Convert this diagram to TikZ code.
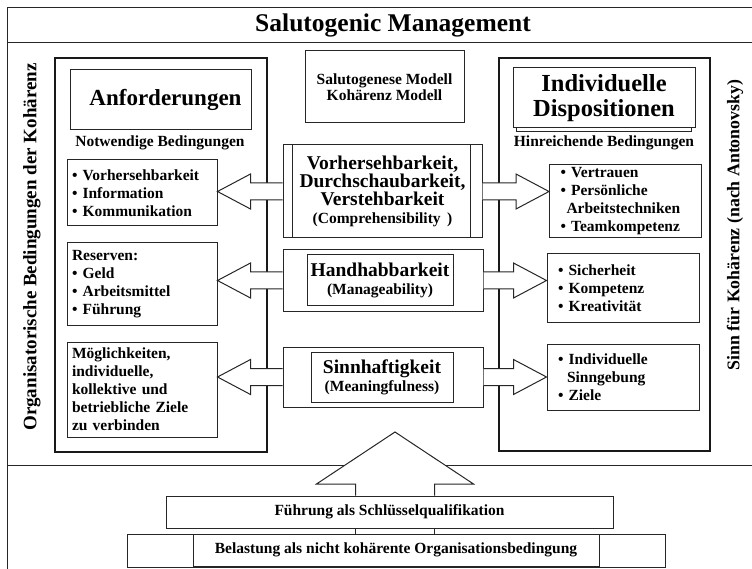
\documentclass[tikz,border=0pt]{standalone}
\usepackage{fontspec}
\setmainfont{Liberation Serif}
\usetikzlibrary{calc}
\newcommand\smallc{\fontsize{15.5}{18}\selectfont}
\tikzset{
  frameline/.style={line width=1pt, draw=black!85},
  box/.style={draw=black!85, line width=1pt, inner sep=0pt},
  bigbox/.style={draw=black!90, line width=2pt, inner sep=0pt},
  blockarr/.style={draw=black!85, line width=1pt, fill=white, line join=miter},
  small/.style={font=\bfseries\fontsize{15.5}{18}\selectfont},
  big/.style={font=\bfseries\fontsize{23}{25}\selectfont},
  ctr/.style={box, align=center, font=\bfseries\fontsize{19.5}{18}\selectfont},
  itemL/.style={box, small, align=left, text width=140pt, inner xsep=5pt, minimum width=150pt},
  itemR/.style={box, small, align=left, text width=130pt, inner xsep=11pt, minimum width=152pt},
}
\newcommand\leftblock[2]{%
  \draw[blockarr] let \p1=(#1), \p2=(#2) in
  (\x1,\y1+8.5pt) -- (\x2+33pt,\y1+8.5pt) -- (\x2+33pt,\y1+17.5pt) -- (\x2,\y1)
  -- (\x2+33pt,\y1-17.5pt) -- (\x2+33pt,\y1-8.5pt) -- (\x1,\y1-8.5pt);}
\newcommand\rightblock[2]{%
  \draw[blockarr] let \p1=(#1), \p2=(#2) in
  (\x1,\y1+8.5pt) -- (\x2-33pt,\y1+8.5pt) -- (\x2-33pt,\y1+17.5pt) -- (\x2,\y1)
  -- (\x2-33pt,\y1-17.5pt) -- (\x2-33pt,\y1-8.5pt) -- (\x1,\y1-8.5pt);}
\begin{document}
\begin{tikzpicture}[x=1pt,y=-1pt]
\useasboundingbox (0,0) rectangle (752,569);
% outer frame
\draw[frameline] (7,569) -- (7,8) -- (752,8);
\draw[frameline] (7,43) -- (752,43);
\draw[frameline] (7,465) -- (752,465);
\node[font=\bfseries\fontsize{25.5}{27}\selectfont] (title) at (393,25) {Salutogenic Management};
% side texts
\node[rotate=90, font=\bfseries\fontsize{19}{20}\selectfont] (lside) at (32,247) {Organisatorische Bedingungen der Kohärenz};
\node[rotate=90, font=\bfseries\fontsize{17.8}{20}\selectfont] (rside) at (735,225) {Sinn für Kohärenz (nach Antonovsky)};
% left big box
\node[bigbox, minimum width=212pt, minimum height=394pt] (lbig) at (161,255) {};
\node[box, big, minimum width=181pt, minimum height=60pt] (anf) at (160.5,100) {\hspace{10pt}Anforderungen};
\node[small] (notw) at (160,143) {Notwendige Bedingungen};
\node[itemL, minimum height=66pt] (l1) at (142,193) {• Vorhersehbarkeit\\ • Information\\ • Kommunikation};
\node[itemL, minimum height=82pt] (l2) at (142,284) {Reserven:\\ • Geld\\ • Arbeitsmittel\\ • Führung};
\node[itemL, minimum height=95pt] (l3) at (142,389.5) {Möglichkeiten,\\ individuelle,\\ kollektive und\\ betriebliche Ziele\\ zu verbinden};
% right big box
\node[bigbox, minimum width=211pt, minimum height=393pt] (rbig) at (604.5,254.5) {};
\node[box, align=center, minimum width=182pt, minimum height=60pt, font=\bfseries\fontsize{24.5}{25}\selectfont] (ind) at (604,98) {Individuelle\\ Dispositionen};
\draw[box] ([xshift=4pt]ind.south west) -- ++(0,3) -- ([xshift=-4pt,yshift=-3pt]ind.south east) -- ([xshift=-4pt]ind.south east);
\node[small] (hinr) at (604,143) {Hinreichende Bedingungen};
\node[itemR, minimum height=73pt] (r1) at (625.5,201.5) {• Vertrauen\\ • Persönliche\\ \hspace*{6pt}Arbeitstechniken\\ • Teamkompetenz};
\node[itemR, minimum height=68pt] (r2) at (623,288) {• Sicherheit\\ • Kompetenz\\ • Kreativität};
\node[itemR, minimum height=66pt] (r3) at (623,377) {• Individuelle\\ \hspace*{9pt}Sinngebung\\ • Ziele};
% center
\node[box, align=center, minimum width=159pt, minimum height=72pt, font=\bfseries\fontsize{15.5}{16}\selectfont] (model) at (384.5,87) {Salutogenese Modell\\ Kohärenz Modell};
\node[ctr, minimum width=199pt, minimum height=93pt] (c1) at (382.5,191.5)
  {Vorhersehbarkeit,\\ Durchschaubarkeit,\\ Verstehbarkeit\\ \smallc (Comprehensibility \,)};
\draw[box] ([xshift=10pt]c1.north west) -- ([xshift=10pt]c1.south west);
\draw[box] ([xshift=-12pt]c1.north east) -- ([xshift=-12pt]c1.south east);
\node[box, minimum width=200pt, minimum height=61pt] (c2o) at (383,280.5) {};
\node[ctr, minimum width=146pt, minimum height=50pt] (c2) at (380,280)
  {Handhabbarkeit\\ \smallc (Manageability)};
\node[box, minimum width=200pt, minimum height=60pt] (c3o) at (383,377) {};
\node[ctr, minimum width=142pt, minimum height=50pt] (c3) at (382,377)
  {Sinnhaftigkeit\\ \smallc (Meaningfulness)};
% block arrows
\leftblock{c1.west}{l1.east}
\leftblock{c2o.west}{l2.east}
\leftblock{c3o.west}{l3.east}
\rightblock{c1.east}{r1.west}
\rightblock{c2o.east}{r2.west}
\rightblock{c3o.east}{r3.west}
% bottom
\node[box, small, minimum width=447pt, minimum height=32pt] (f) at (389.5,512) {Führung als Schlüsselqualifikation};
\node[box, minimum width=538pt, minimum height=33pt] (bo) at (396,550.5) {};
\node[box, small, minimum width=406pt, minimum height=32pt] (b) at (396,550) {Belastung als nicht kohärente Organisationsbedingung};
\coordinate (uptip) at (395,432);
\draw[blockarr] let \p1=(uptip), \p2=(f.north) in
  (\x1-39.5pt,\y2) -- (\x1-39.5pt,\y1-52pt) -- (\x1-78.5pt,\y1-52pt) -- (\x1,\y1)
  -- (\x1+78.5pt,\y1-52pt) -- (\x1+39.5pt,\y1-52pt) -- (\x1+39.5pt,\y2);
\draw[box] let \p1=(uptip), \p2=(f.south), \p3=(b.north) in
  (\x1-39.5pt,\y2) -- (\x1-39.5pt,\y3) (\x1+39.5pt,\y2) -- (\x1+39.5pt,\y3);
\end{tikzpicture}
\end{document}
